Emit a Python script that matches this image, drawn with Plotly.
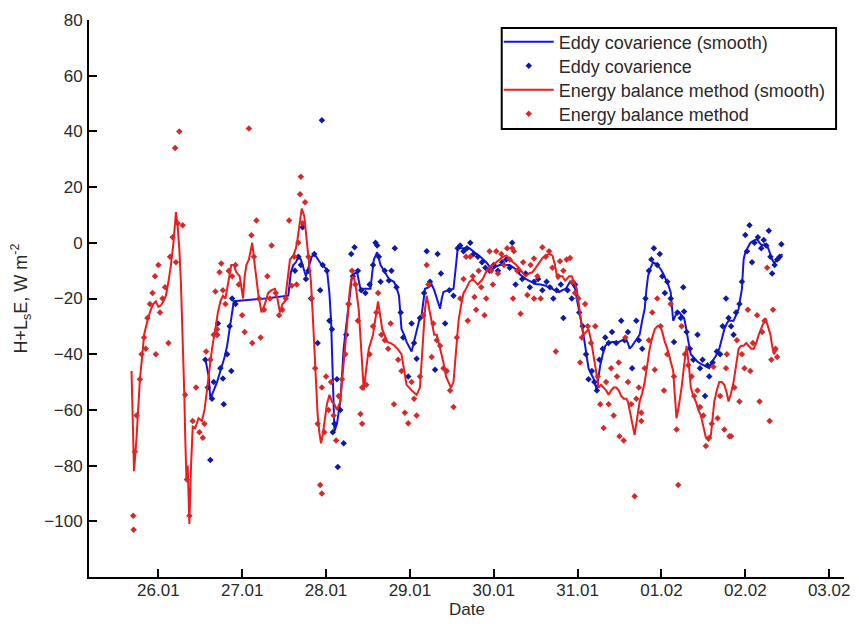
import plotly.graph_objects as go
from datetime import datetime, timedelta

# ---- data (x in "day of January" units: 32 = 01.02) ----
red_line_day = [25.68,25.695,25.71,25.74,25.76,25.78,25.81,25.83,25.87,25.91,25.94,25.97,26.00,26.03,26.06,26.09,26.12,26.15,26.18,26.21,26.23,26.25,26.27,26.29,26.31,26.32,26.335,26.35,26.37,26.39,26.41,26.44,26.48,26.52,26.55,26.58,26.61,26.64,26.68,26.71,26.74,26.77,26.80,26.84,26.87,26.90,26.93,26.97,27.01,27.03,27.05,27.08,27.10,27.12,27.15,27.19,27.23,27.27,27.31,27.35,27.39,27.42,27.45,27.48,27.51,27.54,27.57,27.61,27.64,27.66,27.69,27.71,27.74,27.76,27.78,27.80,27.82,27.84,27.86,27.88,27.90,27.92,27.94,27.96,27.98,28.01,28.04,28.07,28.10,28.13,28.17,28.21,28.23,28.25,28.28,28.30,28.33,28.36,28.39,28.42,28.45,28.48,28.51,28.56,28.59,28.62,28.65,28.67,28.73,28.77,28.81,28.85,28.90,28.93,28.96,29.02,29.08,29.12,29.14,29.16,29.18,29.20,29.23,29.26,29.29,29.32,29.36,29.40,29.43,29.46,29.49,29.52,29.55,29.58,29.61,29.64,29.67,29.71,29.75,29.78,29.81,29.84,29.87,29.90,29.93,29.96,29.99,30.03,30.07,30.11,30.15,30.19,30.23,30.27,30.31,30.35,30.38,30.42,30.46,30.50,30.54,30.58,30.62,30.66,30.70,30.73,30.76,30.79,30.82,30.85,30.87,30.90,30.93,30.96,30.99,31.01,31.03,31.05,31.07,31.10,31.13,31.16,31.19,31.22,31.25,31.28,31.31,31.34,31.37,31.40,31.43,31.46,31.49,31.52,31.55,31.58,31.60,31.63,31.66,31.68,31.71,31.74,31.77,31.80,31.83,31.86,31.89,31.92,31.95,31.98,32.01,32.04,32.07,32.10,32.12,32.14,32.16,32.18,32.21,32.24,32.27,32.30,32.33,32.35,32.38,32.41,32.44,32.47,32.50,32.53,32.56,32.59,32.61,32.63,32.66,32.69,32.72,32.75,32.78,32.80,32.83,32.86,32.89,32.92,32.95,32.98,33.01,33.04,33.07,33.10,33.13,33.16,33.20,33.24,33.27,33.30,33.32,33.34,33.36,33.38]
red_line_val = [-46,-60,-82,-70,-58,-49,-40,-33,-28,-24,-22,-21,-23,-22.5,-21,-19,-14,-8,0,11,6,-2,-15,-33,-55,-69,-85,-80,-101,-80,-66,-66.5,-63,-64,-60,-53,-45,-38,-31,-25,-21,-19,-20,-13,-8,-8,-10.6,-12,-20,-12,-8,-6,-3,0,-8,-18,-25,-22,-18,-17,-16.5,-20,-25,-22,-21,-14,-6,-4.6,-2,1.3,8,12.3,9.6,3,-2,-8,-14,-25,-38,-50,-62,-68,-72,-69,-65,-58,-54.6,-57,-58,-60,-57,-44,-36,-29.6,-18,-13,-12,-17,-24,-40,-53,-45,-38,-33,-27,-21,-27,-31,-35.6,-36,-36.8,-38,-40,-46,-51,-53,-54.6,-52,-42,-32,-24,-19,-24,-28,-33,-33,-38,-43,-48,-50,-52,-50,-38,-28,-22.5,-18,-16.5,-14,-13,-14,-15,-14,-13,-11,-9.4,-8.5,-8,-7,-6,-5,-4.6,-6,-7,-8,-9.4,-11,-12,-11,-10.6,-9,-7,-5.5,-4.6,-4,-4.6,-8,-13,-12,-12,-13.5,-13,-12,-12,-14,-16.5,-21,-26,-30,-33,-32,-31,-35,-40,-46,-52,-51,-52,-53,-54.6,-53,-52,-52,-53,-55,-56,-56,-57,-62,-67,-69,-63,-57,-54,-50,-44,-38,-34,-31,-30,-29.6,-32,-35.6,-38,-41.6,-44,-46,-55,-63,-58,-52,-44,-37,-45,-52,-55,-57,-60,-62,-66,-70,-71,-69,-63,-57,-53,-50,-50,-51,-54,-57,-54,-50,-44,-38,-37,-37,-36,-37,-38,-38,-36,-33,-30,-27,-30,-33,-37,-40,-39,-38]

blue_line_day = [26.56,26.60,26.62,26.64,26.67,26.70,26.73,26.76,26.79,26.82,26.84,26.86,26.88,26.90,27.27,27.55,27.58,27.61,27.64,27.67,27.70,27.73,27.76,27.78,27.80,27.83,27.86,27.90,27.94,27.97,28.01,28.04,28.06,28.07,28.08,28.09,28.10,28.13,28.15,28.17,28.19,28.21,28.24,28.27,28.29,28.31,28.34,28.37,28.41,28.47,28.53,28.55,28.57,28.61,28.65,28.70,28.75,28.81,28.84,28.87,28.90,28.93,28.96,29.02,29.05,29.08,29.11,29.14,29.16,29.18,29.22,29.26,29.29,29.32,29.36,29.38,29.40,29.46,29.52,29.55,29.57,29.62,29.67,29.71,29.77,29.84,29.91,29.95,29.99,30.03,30.07,30.13,30.19,30.26,30.30,30.34,30.38,30.42,30.46,30.50,30.56,30.62,30.66,30.70,30.74,30.78,30.82,30.86,30.89,30.91,30.94,30.97,30.99,31.01,31.04,31.07,31.10,31.13,31.16,31.19,31.21,31.23,31.25,31.27,31.30,31.33,31.37,31.41,31.45,31.49,31.53,31.57,31.60,31.62,31.65,31.68,31.71,31.74,31.77,31.80,31.82,31.84,31.87,31.90,31.94,31.99,32.02,32.05,32.08,32.11,32.13,32.14,32.17,32.21,32.24,32.27,32.29,32.31,32.33,32.35,32.39,32.43,32.47,32.51,32.54,32.57,32.60,32.63,32.66,32.69,32.72,32.75,32.78,32.80,32.83,32.86,32.89,32.92,32.94,32.96,32.97,32.98,33.00,33.03,33.06,33.10,33.14,33.17,33.20,33.23,33.26,33.28,33.30,33.32,33.34,33.37,33.40,33.42,33.44]
blue_line_val = [-41.6,-48,-56,-54.6,-52,-50,-47,-44,-41,-37,-33,-28,-24,-21,-20,-19,-10.6,-8,-7,-5,-6,-9,-12,-10,-8,-5,-4,-6,-7.6,-8.5,-9.4,-18,-28,-38,-48.7,-58,-67.7,-65,-61,-57,-48,-38,-30,-22.5,-17,-12,-11,-10.6,-16.5,-16.5,-16.5,-11,-6,-3.4,-8,-10.5,-13,-14,-16,-19,-31,-33,-35.6,-39,-35,-31,-28,-26,-21,-16.5,-16,-15,-17,-20,-23.7,-20,-17.7,-17,-16.5,-8,-2,-2,-2,-2,-3.4,-5,-7,-8.5,-9.4,-8.5,-8,-8,-8,-9.4,-11,-12,-13,-13.6,-14.3,-14.8,-15,-15.4,-16,-16.5,-17,-17.7,-17,-16.5,-15,-14,-15,-16.5,-20,-23.7,-28,-33,-39,-45,-47,-48.7,-51,-53,-48,-44,-40,-37,-36,-35.6,-35.6,-35.6,-35,-34.4,-36,-38,-37,-35.6,-34,-33,-28,-23.7,-17,-12,-9,-7,-7.6,-9.4,-11,-13,-15,-17.7,-23,-28,-26,-25,-26,-27,-30,-34.4,-37,-40,-41.5,-42.7,-43.5,-44,-44.5,-45,-43,-41.6,-40,-38,-34,-31,-29,-28,-28,-28,-26,-23.7,-20,-16.5,-11,-6,-3.4,-1.5,0,0.8,1.3,0,-1,-0.5,-1,-2.5,-4.6,-6,-7,-6.5,-6,-5,-4]

red_dot_day = [25.70,25.705,25.72,25.74,25.78,25.80,25.83,25.85,25.87,25.90,25.93,25.96,25.97,26.00,26.02,26.05,26.08,26.12,26.14,26.17,26.20,26.21,26.23,26.25,26.29,26.32,26.34,26.37,26.41,26.45,26.49,26.53,26.55,26.57,26.62,26.66,26.68,26.70,26.70,26.73,26.75,26.77,26.80,26.84,26.88,26.92,26.96,27.00,27.03,27.08,27.11,27.12,27.14,27.17,27.20,27.22,27.26,27.30,27.33,27.35,27.40,27.44,27.48,27.52,27.56,27.59,27.62,27.65,27.67,27.69,27.70,27.72,27.75,27.79,27.83,27.87,27.90,27.93,27.95,27.95,27.98,28.00,28.03,28.06,28.09,28.12,28.15,28.19,28.23,28.27,28.31,28.35,28.38,28.41,28.43,28.43,28.48,28.52,28.56,28.60,28.62,28.66,28.70,28.74,28.77,28.81,28.86,28.90,28.94,28.98,29.02,29.05,29.08,29.12,29.16,29.20,29.22,29.26,29.28,29.32,29.36,29.40,29.44,29.48,29.52,29.56,29.60,29.64,29.67,29.69,29.72,29.75,29.77,29.79,29.82,29.85,29.89,29.91,29.95,29.97,29.99,30.03,30.05,30.09,30.12,30.16,30.19,30.22,30.23,30.24,30.28,30.32,30.35,30.40,30.44,30.48,30.48,30.52,30.56,30.58,30.62,30.66,30.70,30.74,30.77,30.79,30.83,30.87,30.91,30.94,30.97,31.01,31.03,31.05,31.09,31.12,31.16,31.21,31.24,31.27,31.31,31.34,31.37,31.40,31.43,31.47,31.49,31.50,31.55,31.57,31.60,31.64,31.68,31.70,31.73,31.76,31.76,31.80,31.85,31.89,31.92,31.95,31.99,32.03,32.07,32.11,32.15,32.18,32.20,32.24,32.28,32.32,32.36,32.39,32.43,32.46,32.50,32.53,32.57,32.60,32.62,32.67,32.70,32.75,32.77,32.78,32.81,32.83,32.87,32.90,32.93,32.96,32.99,33.03,33.06,33.09,33.14,33.17,33.20,33.23,33.26,33.29,33.31,33.33,33.36,33.38]
red_dot_val = [-98,-103,-75,-62,-49,-40,-34,-38,-27,-22,-18,-12,-40,-8,-25,-20,-16,-36,-5,2,34,-7,7,40,6.3,-54.6,-85,-98,-64,-52,-68,-70,-65,-39,-42,-33,-17.5,-31,-33,-10.6,-7.4,-17,-22,-10,-12,-8,-15,-26,-32,41,2.7,-36,-5,8,-20,-34,-24,-12,-20,-1,-18,-26,-24,-20,8,-15.4,-5,-15,0,17.4,23.7,7,14.6,-5,-20,-45,-65,-87,-90,-52,-68,-48,-60,-50,-62,-71,-55,-49,-40,-22,-10,-15,-28,-61.5,-52,-65,-51,-40,-30,-25,-18,-33,-35,-38,-29,-58,-42,-46,-61,-64.8,-50,-56,-62,-48,-26,-8,-15,-41,-29,-35,-37,-45,-46,-53,-59,-34,-20,-13,-5,-28,-5,-12,-19.5,-24,-10,-16,-26,-20,-3,-10,-15,-3,-11,-4,-8,-2,-6,-2,-20,-3,-10,-25.5,-7,-18.7,-8,-20,-5.6,-12,-20,-1.6,-5,-3,-9,-39,-12,-6.6,-10,-6,-5.5,-14,-18,-20,-43,-34,-22,-30,-36,-30,-48,-58,-66.5,-50,-58,-45,-62,-48,-43,-69.5,-71,-34,-50,-58,-91,-56,-52,-61,-64,-45,-35,-25,-45.6,-20,-30,-53,-40,-22,-48,-67,-87,-30,-40,-44,-48,-55,-53,-59,-62,-73,-70,-65,-44.5,-63,-55,-67,-45,-40,-69.5,-69.5,-52,-35,-57,-40,-45,-24,-46,-36,-26,-57,-32,-28,-9,-64,-42,-24,-38,-41]

blue_dot_day = [26.56,26.59,26.62,26.64,26.66,26.70,26.71,26.74,26.77,26.78,26.82,26.85,26.87,26.88,26.92,27.63,27.67,27.70,27.72,27.76,27.79,27.82,27.86,27.90,27.93,27.95,27.96,28.01,28.04,28.07,28.08,28.10,28.13,28.14,28.17,28.21,28.24,28.27,28.30,28.32,28.34,28.38,28.42,28.47,28.52,28.56,28.59,28.61,28.63,28.65,28.70,28.75,28.78,28.82,28.84,28.89,28.92,28.98,29.02,29.05,29.08,29.12,29.17,29.20,29.24,29.30,29.33,29.37,29.42,29.47,29.52,29.57,29.60,29.64,29.68,29.72,29.76,29.81,29.86,29.90,29.95,30.00,30.05,30.10,30.15,30.19,30.22,30.26,30.30,30.34,30.38,30.43,30.48,30.53,30.58,30.63,30.67,30.71,30.75,30.80,30.83,30.88,30.93,30.97,31.02,31.06,31.10,31.13,31.17,31.20,31.23,31.26,31.30,31.33,31.37,31.41,31.46,31.52,31.56,31.60,31.65,31.70,31.73,31.77,31.81,31.85,31.88,31.91,31.95,31.98,32.01,32.04,32.07,32.11,32.15,32.19,32.23,32.26,32.27,32.30,32.34,32.38,32.43,32.46,32.49,32.52,32.55,32.57,32.61,32.66,32.70,32.73,32.77,32.80,32.83,32.86,32.89,32.93,32.96,33.00,33.02,33.05,33.08,33.11,33.15,33.19,33.22,33.25,33.28,33.30,33.32,33.35,33.38,33.41,33.43]
blue_dot_val = [-42,-52,-78,-56,-50,-33,-29,-45,-48.7,-58,-40,-30,-46,-20,-22,-10,-5,-8,5.6,-13,-10,-20,-4,-36,-17,44,-8,-10,-28,-31,-68,-65,-49,-80.5,-60,-72,-33,-22,-4,-12,-1.6,-10,-17,-18,-15,-8,0,-1,-5,-14,-10,-13.5,-10,-2,-16,-25,-34,-48,-29,-36,-41.6,-27,-18,-3,-14,-45.6,-4,-11,-29,-17,-19,-2,-1,-3,-2,0,-4,-5,-7,-9,-10,-8,-10,-7,-6,-9,0,-15,-10,-13,-11,-16,-14,-13,-17,-14,-16,-20,-17,-15,-27,-17,-20,-15,-25,-30,-40,-49,-46,-50,-53,-42,-38,-34,-36,-32,-36,-28,-35,-32,-45,-28,-35,-38,-20,-10,-6,-2,-8,-4,-12,-18,-14,-20,-35.6,-25,-27,-16,-24.7,-32,-38,-42,-33,-45,-42,-55,-44,-48,-43,-39,-40,-30,-20,-27,-30,-33,-25,-22,-14,2.8,-3,6.3,-7,0,2,-2,1,-1,4.3,-5,-11,-8,-6,-5,-0.5]

x_tick_day = [26, 27, 28, 29, 30, 31, 32, 33, 34]
x_tick_text = ["26.01", "27.01", "28.01", "29.01", "30.01", "31.01", "01.02", "02.02", "03.02"]
y_tick_vals = [-100, -80, -60, -40, -20, 0, 20, 40, 60, 80]
x_range_day = [25.173, 34.177]
y_range = [-120, 80]

BASE = datetime(2010, 1, 1)


def to_dt(days):
    return [BASE + timedelta(days=d - 1) for d in days]


BLUE_LINE = "#1414e6"
BLUE_DOT = "#0c1aa8"
RED_LINE = "#ee1c1c"
RED_DOT = "#d42a2a"
TXT = "#2a2a2a"
AXFONT = "Liberation Sans, Arial, sans-serif"
LGFONT = "Liberation Sans, Arial, sans-serif"

# plot area in pixels
W, H = 859, 624
ML, MR, MT, MB = 89, 9, 20, 47
PW, PH = W - ML - MR, H - MT - MB


def px_x(p):
    return (p - ML) / PW


def px_y(p):
    return 1 - (p - MT) / PH


fig = go.Figure()
fig.add_trace(go.Scatter(x=to_dt(blue_line_day), y=blue_line_val, mode="lines",
                         name="Eddy covarience (smooth)", legend="legend",
                         line=dict(color=BLUE_LINE, width=2)))
fig.add_trace(go.Scatter(x=to_dt(blue_dot_day), y=blue_dot_val, mode="markers",
                         name="Eddy covarience", legend="legend2",
                         marker=dict(color=BLUE_DOT, size=5, symbol="diamond", line=dict(width=0))))
fig.add_trace(go.Scatter(x=to_dt(red_line_day), y=red_line_val, mode="lines",
                         name="Energy balance method (smooth)", legend="legend3",
                         line=dict(color=RED_LINE, width=2)))
fig.add_trace(go.Scatter(x=to_dt(red_dot_day), y=red_dot_val, mode="markers",
                         name="Energy balance method", legend="legend4",
                         marker=dict(color=RED_DOT, size=5, symbol="diamond", line=dict(width=0))))

row_centers = [42, 66, 90, 114]
leg_common = dict(xanchor="left", yanchor="middle", bgcolor="rgba(0,0,0,0)",
                  borderwidth=0, font=dict(family=LGFONT, size=18, color=TXT),
                  itemwidth=50)
legends = {}
for i, yc in enumerate(row_centers):
    key = "legend" if i == 0 else f"legend{i + 1}"
    legends[key] = dict(leg_common, x=px_x(502), y=px_y(yc))

fig.update_layout(
    width=W, height=H,
    margin=dict(l=ML, r=MR, t=MT, b=MB),
    paper_bgcolor="white", plot_bgcolor="white",
    font=dict(family=AXFONT, size=17, color=TXT),
    showlegend=True,
    shapes=[dict(type="rect", xref="paper", yref="paper",
                 x0=px_x(505), x1=px_x(842), y0=px_y(129), y1=px_y(28),
                 line=dict(color="black", width=2), fillcolor="white", layer="below")],
    annotations=[dict(text="Date", xref="paper", yref="paper",
                      x=0.5, y=px_y(609), xanchor="center", yanchor="middle",
                      showarrow=False, font=dict(family=AXFONT, size=17, color=TXT))],
    **legends,
)
fig.update_xaxes(
    type="date",
    range=to_dt(x_range_day),
    tickvals=to_dt(x_tick_day), ticktext=x_tick_text,
    ticks="inside", ticklen=8, tickwidth=2, tickcolor="black",
    showline=True, linecolor="black", linewidth=2, mirror=False,
    showgrid=False, zeroline=False,
    ticklabelstandoff=-3,
)
fig.update_yaxes(
    range=y_range,
    tickvals=y_tick_vals,
    ticks="inside", ticklen=8, tickwidth=2, tickcolor="black",
    showline=True, linecolor="black", linewidth=2, mirror=False,
    showgrid=False, zeroline=False,
    title=dict(text="H+L<sub>s</sub>E, W m<sup>-2</sup>", standoff=12,
               font=dict(family=AXFONT, size=18, color=TXT)),
    ticklabelstandoff=1,
)

fig.write_html("out.html", config={"displayModeBar": False},
               post_script="document.body.style.margin='0';document.body.style.padding='0';")
